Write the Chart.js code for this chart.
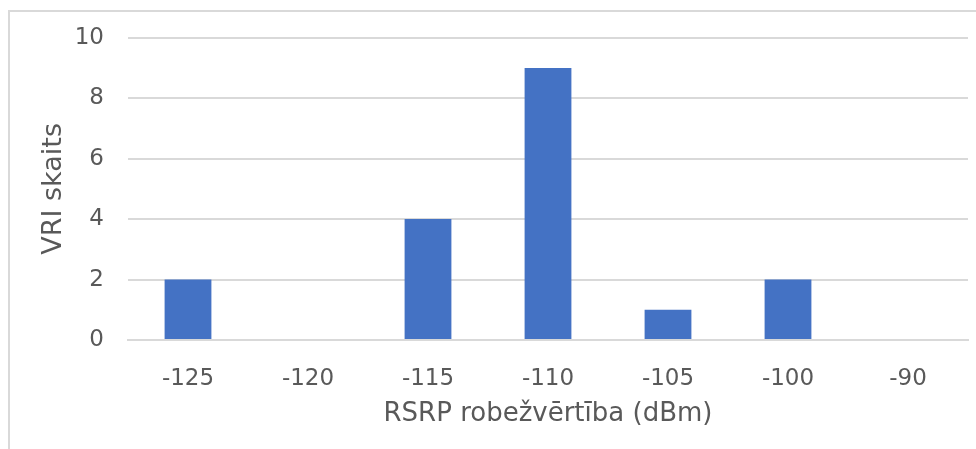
<!DOCTYPE html>
<html>
<head>
<meta charset="utf-8">
<script src="https://cdn.jsdelivr.net/npm/chart.js@4.4.1/dist/chart.umd.min.js"></script>
<style>
  html, body { margin: 0; padding: 0; background: #fff; overflow: hidden; }
  #wrap { position: relative; width: 976px; height: 449px; }
  #frame { position: absolute; left: 8px; top: 10px; width: 1200px; height: 800px;
           border-left: 2px solid #d9d9d9; border-top: 2px solid #d9d9d9; box-sizing: border-box; }
  canvas { position: absolute; left: 0; top: 0; }
</style>
</head>
<body>
<div id="wrap">
  <div id="frame"></div>
  <canvas id="c" width="976" height="449"></canvas>
</div>
<script>
// RSRP threshold categories and how many sites fall in each
const categories = ['-125', '-120', '-115', '-110', '-105', '-100', '-90'];
const siteCounts = [2, 0, 4, 9, 1, 2, 0];
const yTicks = [0, 2, 4, 6, 8, 10];

const xTitle = 'RSRP robežvērtība (dBm)';
const yTitle = 'VRI skaits';

const textColor = '#595959';
const gridColor = '#d9d9d9';
const fontFamily = '"DejaVu Sans", sans-serif';

new Chart(document.getElementById('c'), {
  type: 'bar',
  data: {
    labels: categories,
    datasets: [{
      data: siteCounts,
      backgroundColor: '#4472C4',
      borderWidth: 0,
      barPercentage: 0.39,
      categoryPercentage: 1.0
    }]
  },
  options: {
    responsive: false,
    animation: false,
    layout: { padding: { left: 38, right: 8, top: 37, bottom: 19 } },
    plugins: { legend: { display: false }, tooltip: { enabled: false } },
    scales: {
      x: {
        grid: { display: false, drawTicks: false },
        border: { display: true, color: gridColor, width: 2 },
        ticks: { color: textColor, font: { family: fontFamily, size: 23 }, padding: 25, maxRotation: 0 },
        title: { display: true, text: xTitle, color: textColor, font: { family: fontFamily, size: 26 }, padding: 0 },
        afterFit: (s) => { s.height = 449 - 340 - 19; }
      },
      y: {
        min: 0, max: 10,
        afterBuildTicks: (s) => { s.ticks = yTicks.map(v => ({ value: v })); },
        grid: { color: gridColor, lineWidth: 2, drawTicks: false },
        border: { display: false },
        ticks: { color: textColor, font: { family: fontFamily, size: 23 }, padding: 24 },
        title: { display: true, text: yTitle, color: textColor, font: { family: fontFamily, size: 27 }, padding: 0 },
        afterFit: (s) => { s.width = 128 - 38; }
      }
    }
  }
});
</script>
</body>
</html>
